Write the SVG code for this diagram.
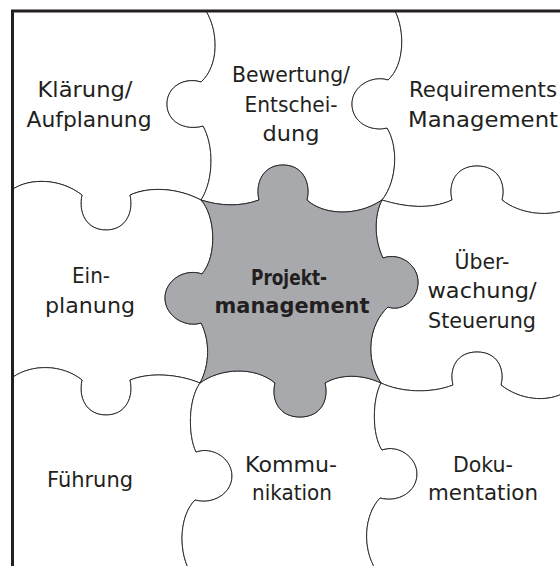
<svg xmlns="http://www.w3.org/2000/svg" width="560" height="566" viewBox="0 0 560 566">
<style>
.pc{fill:#ffffff;stroke:#231f20;stroke-width:0.9;stroke-linejoin:round}
.core{fill:#a7a9ac;stroke:#231f20;stroke-width:0.9;stroke-linejoin:round}
.t{font-family:"DejaVu Sans","Liberation Sans",sans-serif;font-size:21.5px;fill:#231f20;text-anchor:middle}
.b{font-weight:bold}
.frame{fill:none;stroke:#231f20;stroke-width:3}
</style>
<rect x="0" y="0" width="560" height="566" fill="#ffffff"/>
<g id="klaerung">
<path class="pc" d="M13,11 L206,11 C218,30 220,65 201,82 C185,77 167,86 167,104 C167,122 185,131 203,126 C214,145 214,180 201,200 C178,188 150,186 130,195 C134,212 126,230 106,230 C86,230 78,212 82,195 C60,178 30,178 13,189 Z"/>
<text class="t" x="85" y="97" textLength="95" lengthAdjust="spacingAndGlyphs">Klärung/</text>
<text class="t" x="89" y="127" textLength="125" lengthAdjust="spacingAndGlyphs">Aufplanung</text>
</g>
<g id="bewertung">
<path class="pc" d="M206,11 L395,11 C405,30 405,65 388,80 C372,75 352,86 352,104 C352,122 370,132 387,128 C398,145 398,180 382,200 C355,218 322,214 307,200 C311,183 303,165 283,165 C263,165 255,183 259,200 C240,207 220,206 201,200 C214,180 214,145 203,126 C185,131 167,122 167,104 C167,86 185,77 201,82 C220,65 218,30 206,11 Z"/>
<text class="t" x="291" y="82" textLength="118" lengthAdjust="spacingAndGlyphs">Bewertung/</text>
<text class="t" x="291" y="112" textLength="93" lengthAdjust="spacingAndGlyphs">Entschei-</text>
<text class="t" x="291" y="141" textLength="57" lengthAdjust="spacingAndGlyphs">dung</text>
</g>
<g id="requirements">
<path class="pc" d="M395,11 L562,11 L562,211 C545,216 520,214 502,200 C506,183 498,166 477,166 C456,166 448,183 452,200 C430,210 405,207 382,200 C398,180 398,145 387,128 C370,132 352,122 352,104 C352,86 372,75 388,80 C405,65 405,30 395,11 Z"/>
<text class="t" x="483" y="97" textLength="148" lengthAdjust="spacingAndGlyphs">Requirements</text>
<text class="t" x="483" y="127" textLength="150" lengthAdjust="spacingAndGlyphs">Management</text>
</g>
<g id="einplanung">
<path class="pc" d="M13,189 C30,178 60,178 82,195 C78,212 86,230 106,230 C126,230 134,212 130,195 C150,186 178,188 201,200 C215,215 218,255 202,274 C185,268 165,280 165,298 C165,316 185,328 201,323 C210,340 210,365 200,383 C178,374 150,372 130,380 C134,397 126,415 106,415 C86,415 78,397 82,380 C62,364 32,364 13,377 Z"/>
<text class="t" x="91" y="283" textLength="38" lengthAdjust="spacingAndGlyphs">Ein-</text>
<text class="t" x="90" y="313" textLength="90" lengthAdjust="spacingAndGlyphs">planung</text>
</g>
<g id="ueberwachung">
<path class="pc" d="M382,200 C405,207 430,210 452,200 C448,183 456,166 477,166 C498,166 506,183 502,200 C520,214 545,216 562,211 L562,394 C545,402 520,400 501,385 C505,368 497,352 477,352 C457,352 449,368 453,385 C430,394 400,392 381,383 C365,360 368,325 388,307 C402,312 418,300 418,282 C418,265 400,252 383,258 C374,240 374,215 382,200 Z"/>
<text class="t" x="482" y="269" textLength="55" lengthAdjust="spacingAndGlyphs">Über-</text>
<text class="t" x="482" y="298" textLength="109" lengthAdjust="spacingAndGlyphs">wachung/</text>
<text class="t" x="482" y="328" textLength="108" lengthAdjust="spacingAndGlyphs">Steuerung</text>
</g>
<g id="fuehrung">
<path class="pc" d="M13,377 C32,364 62,364 82,380 C78,397 86,415 106,415 C126,415 134,397 130,380 C150,372 178,374 200,383 C188,400 188,435 196,452 C212,446 232,458 232,476 C232,494 212,505 195,500 C180,515 178,548 189,570 L13,570 Z"/>
<text class="t" x="90" y="487" textLength="86" lengthAdjust="spacingAndGlyphs">Führung</text>
</g>
<g id="kommunikation">
<path class="pc" d="M200,383 C220,368 255,366 275,383 C271,400 279,417 300,417 C321,417 329,400 325,383 C340,374 362,374 381,383 C372,400 372,435 382,450 C398,444 417,457 417,474 C417,492 398,503 380,498 C364,515 362,548 376,570 L189,570 C178,548 180,515 195,500 C212,505 232,494 232,476 C232,458 212,446 196,452 C188,435 188,400 200,383 Z"/>
<text class="t" x="291" y="472" textLength="92" lengthAdjust="spacingAndGlyphs">Kommu-</text>
<text class="t" x="292" y="500" textLength="80" lengthAdjust="spacingAndGlyphs">nikation</text>
</g>
<g id="dokumentation">
<path class="pc" d="M381,383 C400,392 430,394 453,385 C449,368 457,352 477,352 C497,352 505,368 501,385 C520,400 545,402 562,394 L562,570 L376,570 C362,548 364,515 380,498 C398,503 417,492 417,474 C417,457 398,444 382,450 C372,435 372,400 381,383 Z"/>
<text class="t" x="483" y="472" textLength="60" lengthAdjust="spacingAndGlyphs">Doku-</text>
<text class="t" x="483" y="500" textLength="110" lengthAdjust="spacingAndGlyphs">mentation</text>
</g>
<g id="projektmanagement">
<path class="core" d="M201,200 C220,206 240,207 259,200 C255,183 263,165 283,165 C303,165 311,183 307,200 C322,214 355,218 382,200 C374,215 374,240 383,258 C400,252 418,265 418,282 C418,300 402,312 388,307 C368,325 365,360 381,383 C362,374 340,374 325,383 C329,400 321,417 300,417 C279,417 271,400 275,383 C255,366 220,368 200,383 C210,365 210,340 201,323 C185,328 165,316 165,298 C165,280 185,268 202,274 C218,255 215,215 201,200 Z"/>
<text class="t b" x="289" y="285" textLength="76" lengthAdjust="spacingAndGlyphs">Projekt-</text>
<text class="t b" x="292" y="313" textLength="155" lengthAdjust="spacingAndGlyphs">management</text>
</g>
<g id="connectors"></g>
<path class="frame" d="M12.5,566 L12.5,11 L560,11"/>
</svg>
